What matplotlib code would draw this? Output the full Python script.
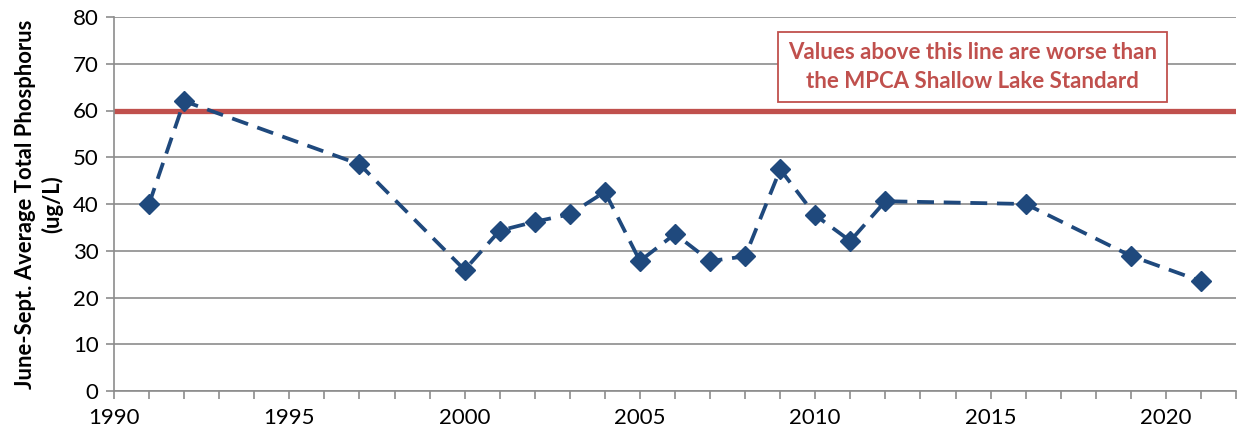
import matplotlib
matplotlib.use("Agg")
import matplotlib.pyplot as plt
from matplotlib.ticker import MultipleLocator

# June-Sept average total phosphorus
years = [1991, 1992, 1997, 2000, 2001, 2002, 2003, 2004, 2005, 2006,
         2007, 2008, 2009, 2010, 2011, 2012, 2016, 2019, 2021]
tp = [40.0, 62.0, 48.5, 25.9, 34.3, 36.2, 37.8, 42.6, 27.8, 33.6,
      27.8, 28.8, 47.4, 37.6, 32.1, 40.6, 40.0, 28.9, 23.5]
standard = 60
note = "Values above this line are worse than\nthe MPCA Shallow Lake Standard"
ylabel = "June-Sept. Average Total Phosphorus\n(ug/L)"

plt.rcParams['font.family'] = ['Lato', 'DejaVu Sans']

fig = plt.figure(figsize=(12.37, 4.33), dpi=100)
ax = fig.add_axes([114/1237, 1 - 391/433, 1 - 114/1237 - 1/1237, (391 - 17)/433])

grey = '#8c8c8c'
ax.yaxis.grid(True, color=grey, linewidth=1.2)
ax.set_axisbelow(True)

ax.axhline(standard, color='#C0504D', linewidth=3.8, zorder=2)
ax.plot(years, tp, color='#1F497D', linestyle=(0, (4.5, 2.6)), linewidth=2.7,
        marker='D', markersize=10.5, zorder=3)

ax.set_xlim(1990, 2022)
ax.set_ylim(0, 80)
ax.xaxis.set_major_locator(MultipleLocator(5))
ax.xaxis.set_minor_locator(MultipleLocator(1))
ax.yaxis.set_major_locator(MultipleLocator(10))

for s in ['top', 'right']:
    ax.spines[s].set_visible(False)
for s in ['left', 'bottom']:
    ax.spines[s].set_color(grey)
    ax.spines[s].set_linewidth(1.2)

ax.tick_params(axis='x', which='both', direction='out', length=6, color=grey,
               width=1.2, labelsize=16, pad=6)
ax.tick_params(axis='y', direction='out', length=6, color=grey, width=1.2,
               labelsize=16, pad=5)

ax.set_ylabel(ylabel, fontsize=15.8, fontweight='bold', labelpad=7, linespacing=1.3)

ax.text(2014.49, 69.3, note, ha='center', va='center', fontsize=16,
        fontweight='bold', color='#C0504D', linespacing=1.5,
        bbox=dict(boxstyle='square,pad=0.45', facecolor='white',
                  edgecolor='#C0504D', linewidth=1.3), zorder=4)

fig.savefig('out.png', dpi=100)
